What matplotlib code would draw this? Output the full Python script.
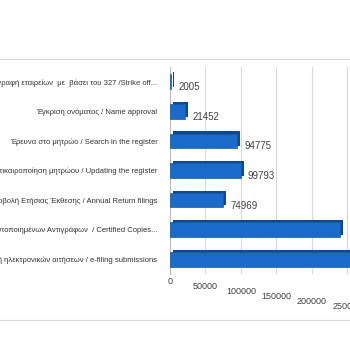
import matplotlib.pyplot as plt
import matplotlib.transforms as mtransforms

# ============ DATA ============

categories = [
    "Διαγραφή εταιρείων  με  βάσει του 327 /Strike off...",
    "Έγκριση ονόματος / Name approval",
    "Έρευνα στο μητρώο / Search in the register",
    "Επικαιροποίηση μητρώου / Updating the register",
    "Υποβολή Ετήσιας Έκθεσης / Annual Return filings",
    "Έκδοση Πιστοποιημένων Αντιγράφων  / Certified Copies...",
    "Υποβολή ηλεκτρονικών αιτήσεων / e-filing submissions",
]
values = [2005, 21452, 94775, 99793, 74969, 240000, 300000]
shown_labels = [True, True, True, True, True, False, False]
x_ticks = [0, 50000, 100000, 150000, 200000, 250000, 300000]

# ============ PLOT ============

plt.rcParams['font.family'] = ['Liberation Sans', 'DejaVu Sans']

fig = plt.figure(figsize=(3.5, 3.5), dpi=100)
fig.patch.set_facecolor('white')

# faint frame lines of the chart area
fig.add_artist(plt.Line2D([0, 1], [1 - 59 / 350, 1 - 59 / 350], color='#d9d9d9', lw=0.8))
fig.add_artist(plt.Line2D([0, 1], [1 - 320 / 350, 1 - 320 / 350], color='#d9d9d9', lw=0.8))

ax = fig.add_axes([170 / 350, 1 - 274 / 350, 227 / 350, 207 / 350])
ypos = list(range(len(categories)))

# depth face then front face
ax.barh(ypos, values, height=0.5, color='#0d4a92', zorder=2,
        transform=ax.transData + mtransforms.ScaledTranslation(2 / 72, 1.5 / 72, fig.dpi_scale_trans))
ax.barh(ypos, values, height=0.5, color='#1a6bc9', edgecolor='#145aa8', lw=0.5, zorder=3)

for y, v, show in zip(ypos, values, shown_labels):
    if show:
        ax.annotate(str(v), (v, y), xytext=(5, -4), textcoords='offset points',
                    ha='left', va='center', fontsize=7, color='#404040')

ax.set_xlim(0, 320000)
ax.set_ylim(len(categories) - 0.5, -0.5)
ax.set_yticks(ypos)
ax.set_yticklabels(categories, fontsize=5.5, color='#333333')
ax.set_xticks(x_ticks)
ax.set_xticklabels([str(t) for t in x_ticks], fontsize=6.5, color='#404040')
ax.tick_params(axis='y', length=0, pad=9)
ax.tick_params(axis='x', length=0, pad=2)

# perspective look: tick labels step down to the right
for i, lab in enumerate(ax.get_xticklabels()):
    lab.set_transform(lab.get_transform() + mtransforms.ScaledTranslation(0, -i * 3.6 / 72, fig.dpi_scale_trans))

ax.grid(axis='x', color='#d9d9d9', lw=0.8, zorder=0)
ax.set_axisbelow(True)
for side in ['top', 'right', 'bottom']:
    ax.spines[side].set_visible(False)
ax.spines['left'].set_color('#bfbfbf')
ax.spines['left'].set_linewidth(0.8)

plt.savefig('out.png', dpi=100)
